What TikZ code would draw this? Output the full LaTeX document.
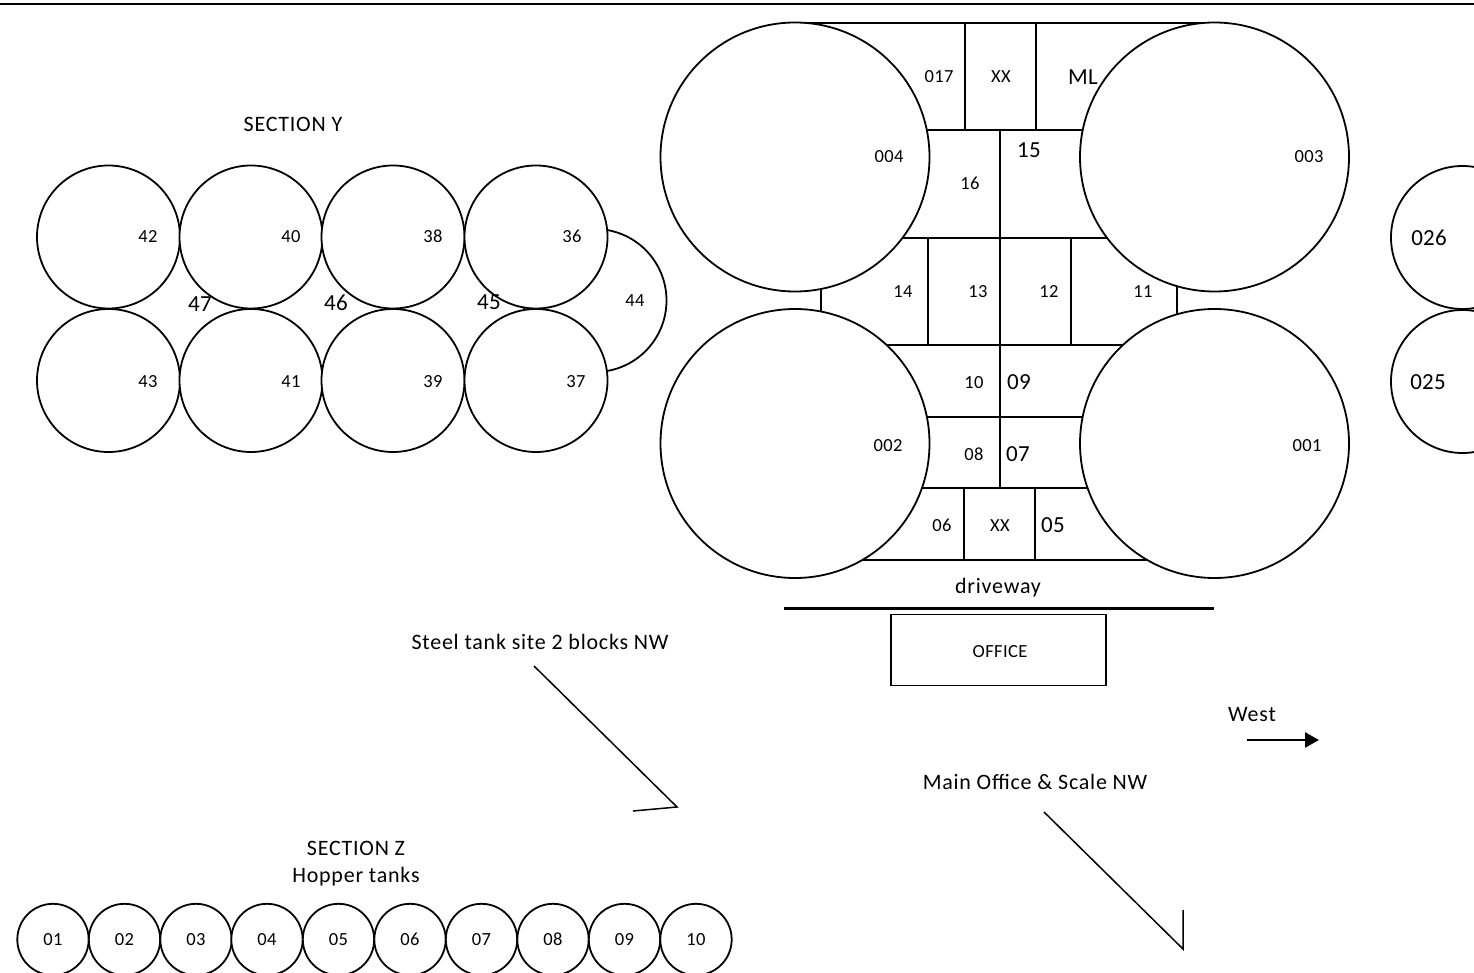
\documentclass[tikz,border=0pt]{standalone}
\usepackage{fontspec}
\setmainfont{Carlito}
\newfontfamily\spaced[LetterSpace=2]{Carlito}
\newfontfamily\spacedb[LetterSpace=1]{Carlito}
\newfontfamily\spacedc[LetterSpace=3.5]{Carlito}
\usetikzlibrary{arrows.meta}
\tikzset{
  tank/.style={circle,draw=black,fill=white,line width=1.8pt,inner sep=0pt,minimum size=#1*2pt},
  lbl/.style={inner sep=0pt,text height=12pt,text depth=0pt,font=\spaced\fontsize{18.5}{20}\selectfont},
  bigl/.style={inner sep=0pt,text height=15pt,text depth=0pt,font=\spacedb\fontsize{23}{25}\selectfont},
  txt/.style={inner sep=0pt,font=\spacedc\fontsize{22}{24}\selectfont},
  wall/.style={draw=black,line width=1.7pt},
  pointer/.style={draw=black,line width=1.5pt,line join=miter}
}
\begin{document}
\begin{tikzpicture}[x=1pt,y=-1pt]
\useasboundingbox (0,0) rectangle (1474,973);
\begin{scope}
\clip (0,0) rectangle (1474,973);
\draw[line width=2.4pt] (0,4) -- (1474,4);
% walls between the big tanks
\draw[wall] (795,23) -- (1215,23);
\draw[wall] (965,23) -- (965,130);
\draw[wall] (1036,23) -- (1036,130);
\draw[wall] (920,130) -- (1090,130);
\draw[wall] (1000,130) -- (1000,488);
\draw[wall] (895,238) -- (1115,238);
\draw[wall] (928,238) -- (928,345);
\draw[wall] (1071,238) -- (1071,345);
\draw[wall] (880,345) -- (1125,345);
\draw[wall,line width=2.1pt] (920,417) -- (1090,417);
\draw[wall] (915,488) -- (1095,488);
\draw[wall] (964,488) -- (964,560);
\draw[wall] (1035,488) -- (1035,560);
\draw[wall] (850,560) -- (1155,560);
\draw[wall] (821,285) -- (821,315);
\draw[wall] (1177,285) -- (1177,318);
% big tanks
\node[tank=134.5] (t004) at (795,157) {};
\node[tank=134.5] (t003) at (1214.5,157) {};
\node[tank=134.5] (t002) at (795,443.5) {};
\node[tank=134.5] (t001) at (1214.5,443.5) {};
% section Y
\node[tank=71.5] (t44) at (595,300.5) {};
\foreach \n/\x/\y in {42/108.5/237,40/251/237,38/393/237,36/536/237,43/108.5/380.5,41/251/380.5,39/393/380.5,37/536/380.5}
  \node[tank=71.5] (t\n) at (\x,\y) {};
% far right
\node[tank=71.5] (t026) at (1462.5,237.5) {};
\node[tank=71.5] (t025) at (1462.5,381.5) {};
% section Z
\foreach \n/\x in {01/53,02/124.5,03/196,04/267,05/338.5,06/410,07/481.5,08/553,09/624.5,10/696}
  \node[tank=35.7,label={[lbl]center:\n}] (z\n) at (\x,939.5) {};
\end{scope}
% labels on tanks
\foreach \s/\x/\y in {42/148/237,40/291/237,38/433/237,36/572/237,43/148/381,41/291/381,39/433/381,37/576/381,44/635/301,
  004/889/157,003/1309/157,002/888/445,001/1307/445,017/939/77,XX/1001/77,16/970/184,14/903/292,13/978/292,12/1049/292,11/1143/292,10/974/382,08/974/454,06/942/525,XX/1000/525}
  \node[lbl] (n\s\x) at (\x,\y) {\s};
\foreach \s/\x/\y in {ML/1083/77,15/1029/150,09/1019/382,07/1018/454,05/1053/525,47/200/304,46/336/303,45/489/302}
  \node[bigl] (b\s) at (\x,\y) {\s};
\node[bigl] (b026) at (1429,238) {026};
\node[bigl] (b025) at (1428,382) {025};
% texts
\node[txt] (secy) at (293,124) {SECTION Y};
\node[txt] (secz) at (356,848) {SECTION Z};
\node[txt] (hop) at (356,877) {Hopper tanks};
\node[txt] (drv) at (998,588) {driveway};
\node[lbl] (off) at (1000,651) {OFFICE};
\node[txt] (steel) at (540,642) {Steel tank site 2 blocks NW};
\node[txt] (main) at (1035,782) {Main Office \& Scale NW};
\node[txt] (west) at (1252,715) {West};
% driveway, office
\coordinate (dl) at (784,608.5);
\coordinate (dr) at (1214,608.5);
\draw[line width=2.2pt] (dl) -- (dr);
\node[draw=black,line width=1.8pt,minimum width=215pt,minimum height=71pt,inner sep=0pt] (officebox) at (998.5,650) {};
% pointers
\coordinate (s1) at (534,666);
\coordinate (s2) at (677,807);
\coordinate (s3) at (633,811);
\draw[pointer] (s1) -- (s2) -- (s3);
\coordinate (m1) at (1044,812);
\coordinate (m2) at (1183,949);
\coordinate (m3) at (1183,910);
\draw[pointer] (m1) -- (m2) -- (m3);
\coordinate (w1) at (1247,740);
\coordinate (w2) at (1319,740);
\draw[line width=2.6pt,-{Triangle[length=14pt,width=15pt]}] (w1) -- (w2);
\end{tikzpicture}
\end{document}
